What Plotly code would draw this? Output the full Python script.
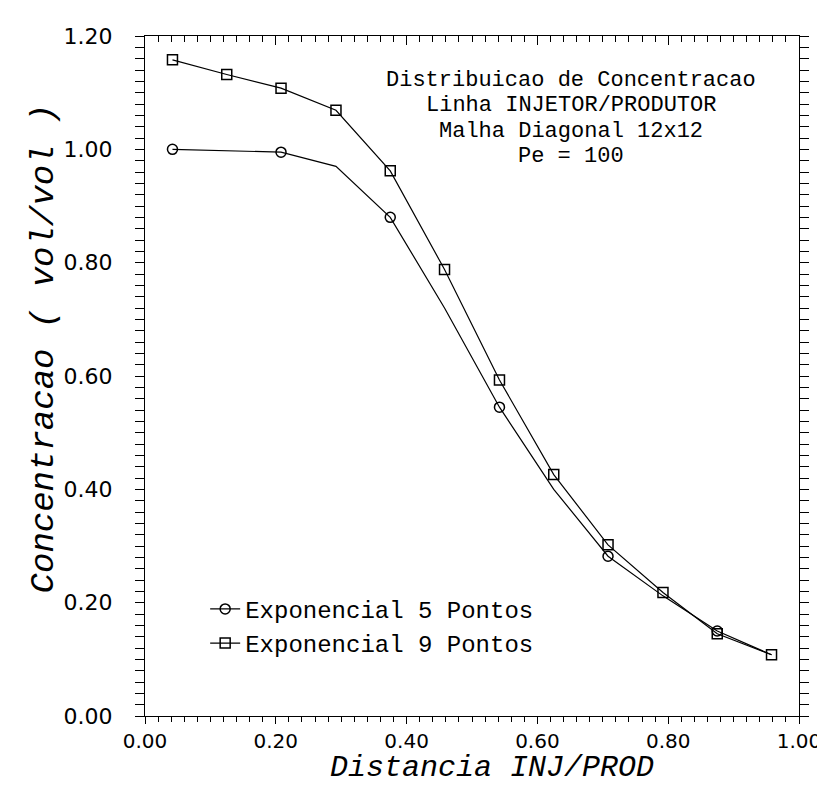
import plotly.graph_objects as go

# ---- data ----
distancia = [0.042, 0.125, 0.208, 0.292, 0.375, 0.458, 0.542, 0.625, 0.708, 0.792, 0.875, 0.958]
exp5 = [1.000, 0.998, 0.995, 0.970, 0.880, 0.720, 0.545, 0.400, 0.282, 0.212, 0.150, 0.108]
exp9 = [1.158, 1.132, 1.108, 1.069, 0.962, 0.788, 0.593, 0.426, 0.302, 0.218, 0.145, 0.108]
exp5_marked = [0, 2, 4, 6, 8, 10]
x_ticks = [0.0, 0.2, 0.4, 0.6, 0.8, 1.0]
x_ticklabels = ["0.00", "0.20", "0.40", "0.60", "0.80", "1.00"]
y_ticks = [0.0, 0.2, 0.4, 0.6, 0.8, 1.0, 1.2]
y_ticklabels = ["0.00", "0.20", "0.40", "0.60", "0.80", "1.00", "1.20"]
legend_names = ["Exponencial 5 Pontos", "Exponencial 9 Pontos"]
title_lines = ["Distribuicao de Concentracao", "Linha INJETOR/PRODUTOR",
               "Malha Diagonal 12x12", "Pe = 100"]
x_title = "Distancia INJ/PROD"
y_title = "Concentracao ( vol/vol )"

MONO = "Liberation Mono"
TICKF = "DejaVu Sans"

fig = go.Figure()
fig.add_trace(go.Scatter(
    x=distancia, y=exp5, name=legend_names[0], mode="lines+markers",
    line=dict(color="black", width=1.2),
    marker=dict(symbol="circle-open", size=10, color="black", line=dict(width=1.5)),
    selectedpoints=exp5_marked,
    unselected=dict(marker=dict(opacity=0)),
))
fig.add_trace(go.Scatter(
    x=distancia, y=exp9, name=legend_names[1], mode="lines+markers",
    line=dict(color="black", width=1.2),
    marker=dict(symbol="square-open", size=10, color="black", line=dict(width=1.5)),
))
# invisible trace so the top (inside-tick) axis is drawn
fig.add_trace(go.Scatter(x=[0, 1], y=[0, 0], xaxis="x2", mode="markers",
                         marker=dict(opacity=0), showlegend=False, hoverinfo="skip"))

axis_common = dict(showgrid=False, zeroline=False, tickcolor="black", tickwidth=1.2)

fig.update_layout(
    width=825, height=787,
    margin=dict(l=137, r=26, t=28, b=79),
    paper_bgcolor="white", plot_bgcolor="white",
    showlegend=True,
    legend=dict(x=0.092, y=0.19, xanchor="left", yanchor="top",
                bgcolor="rgba(0,0,0,0)", font=dict(family=MONO, size=24, color="black"),
                tracegroupgap=0, itemwidth=30),
    xaxis=dict(range=[0, 1], tickvals=x_ticks, ticktext=x_ticklabels,
               ticks="outside", ticklen=7, mirror=True,
               linecolor="black", linewidth=1.3,
               tickfont=dict(family=TICKF, size=20, color="black"),
               minor=dict(dtick=0.02, ticks="outside", ticklen=5, tickcolor="black", tickwidth=1),
               **axis_common),
    xaxis2=dict(range=[0, 1], overlaying="x", side="top", anchor="y",
                tickvals=x_ticks, showticklabels=False, ticks="inside", ticklen=9,
                showline=False,
                minor=dict(dtick=0.02, ticks="inside", ticklen=6, tickcolor="black", tickwidth=1),
                **axis_common),
    yaxis=dict(range=[0, 1.2], tickvals=y_ticks, ticktext=y_ticklabels,
               ticks="outside", ticklen=9, mirror="allticks", ticklabelstandoff=18,
               linecolor="black", linewidth=1.3,
               tickfont=dict(family=TICKF, size=22, color="black"),
               minor=dict(dtick=0.02, ticks="outside", ticklen=6, tickcolor="black", tickwidth=1),
               **axis_common),
)

title_y = [0.935, 0.8975, 0.86, 0.8225]
for line, yy in zip(title_lines, title_y):
    fig.add_annotation(text=line, x=0.652, y=yy, xref="paper", yref="paper",
                       showarrow=False, xanchor="center", yanchor="middle",
                       font=dict(family=MONO, size=22, color="black"))

fig.add_annotation(text="<i>" + x_title + "</i>", x=0.53, y=-0.076, xref="paper", yref="paper",
                   showarrow=False, xanchor="center", yanchor="middle",
                   font=dict(family=MONO, size=30, color="black"))
fig.add_annotation(text="<i>" + y_title + "</i>", x=-0.154, y=0.541, xref="paper", yref="paper",
                   showarrow=False, xanchor="center", yanchor="middle", textangle=-90,
                   font=dict(family=MONO, size=34, color="black"))

fig.write_html("out.html")
